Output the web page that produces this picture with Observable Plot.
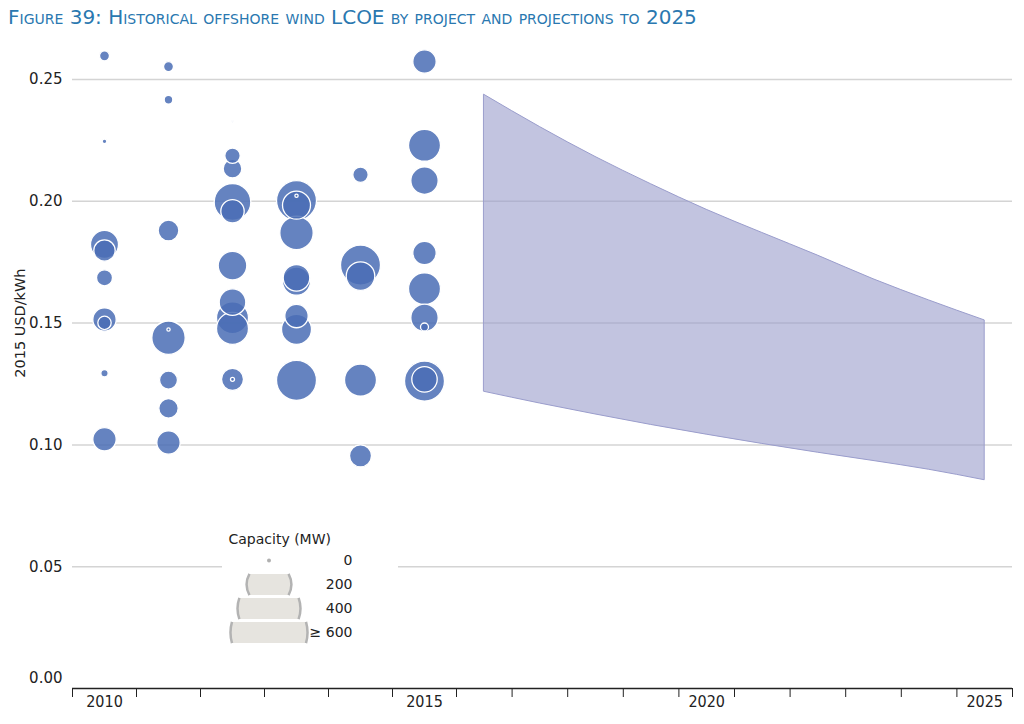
<!DOCTYPE html>
<html>
<head>
<meta charset="utf-8">
<script src="https://cdn.jsdelivr.net/npm/d3@7"></script>
<script src="https://cdn.jsdelivr.net/npm/@observablehq/plot@0.6"></script>
<style>
  body { margin: 0; background: #fff; }
  #wrap { position: relative; width: 1024px; height: 724px; overflow: hidden; }
  #title { position: absolute; left: 8px; top: 5px; font-family: "DejaVu Sans", sans-serif; font-variant: small-caps; font-size: 20px; color: #2a78b0; white-space: nowrap; letter-spacing: 0px; }
  #chart { position: absolute; left: 0; top: 40px; }
  #legend { position: absolute; left: 222px; top: 522px; background: #fff; }
</style>
</head>
<body>
<div id="wrap">
  <div id="title">Figure 39: Historical offshore wind LCOE by project and projections to 2025</div>
  <div id="chart"></div>
  <div id="legend"></div>
</div>
<script>
// ---- Data ----
const histYears = [
  2010, 2010, 2010, 2010, 2010, 2010, 2010, 2010, 2010,
  2011, 2011, 2011, 2011, 2011, 2011, 2011, 2011,
  2012, 2012, 2012, 2012, 2012, 2012, 2012, 2012, 2012, 2012, 2012,
  2013, 2013, 2013, 2013, 2013, 2013, 2013, 2013, 2013,
  2014, 2014, 2014, 2014, 2014,
  2015, 2015, 2015, 2015, 2015, 2015, 2015, 2015, 2015
];
const histLcoe = [
  0.2597, 0.2246, 0.1823, 0.1798, 0.1686, 0.1515, 0.1501, 0.1294, 0.1023,
  0.2553, 0.2417, 0.1880, 0.1440, 0.1474, 0.1266, 0.1150, 0.1010,
  0.2328, 0.2187, 0.2134, 0.1997, 0.1959, 0.1736, 0.1586, 0.1522, 0.1478, 0.1269, 0.1269,
  0.2003, 0.1984, 0.2023, 0.1870, 0.1686, 0.1672, 0.1529, 0.1474, 0.1265,
  0.2109, 0.1738, 0.1693, 0.1266, 0.0955,
  0.2574, 0.2230, 0.2085, 0.1788, 0.1641, 0.1522, 0.1484, 0.1262, 0.1269
];
const histCapacity = [
  37, 8, 294, 172, 96, 205, 67, 20, 205,
  37, 28, 160, 418, 4, 121, 141, 205,
  1, 89, 130, 504, 205, 307, 265, 384, 384, 181, 6,
  600, 294, 4, 418, 265, 294, 205, 337, 600,
  89, 600, 307, 384, 181,
  205, 384, 281, 205, 384, 281, 24, 600, 242
];
const projYears = [2016, 2017, 2018, 2019, 2020, 2021, 2022, 2023, 2024, 2025];
const projLow  = [0.1218, 0.1170, 0.1125, 0.1082, 0.1042, 0.1004, 0.0968, 0.0934, 0.0898, 0.0855];
const projHigh = [0.2437, 0.2305, 0.2182, 0.2070, 0.1965, 0.1870, 0.1777, 0.1680, 0.1593, 0.1511];
const yTicks = [0.05, 0.10, 0.15, 0.20, 0.25];
const xLabelYears = [2010, 2015, 2020, 2025];
const xBoundaries = [2009.5, 2010.5, 2011.5, 2012.5, 2013.5, 2014.5, 2015.5, 2016.5, 2017.5,
  2018.5, 2019.5, 2020.5, 2021.5, 2022.5, 2023.5, 2024.5, 2025.5];
const legendCaps = [0, 200, 400, 600];
const legendLabels = ["0", "200", "400", "\u2265 600"];
const yLabel = "2015 USD/kWh";
const legendTitle = "Capacity (MW)";

// ---- Tables ----
const projects = histYears.map((year, i) => ({year, lcoe: histLcoe[i], cap: histCapacity[i]}));
const band = projYears.map((year, i) => ({year, low: projLow[i], high: projHigh[i]}));

const chart = Plot.plot({
  width: 1024,
  height: 684,
  marginLeft: 72,
  marginRight: 12,
  marginTop: 39,
  marginBottom: 36,
  style: {fontFamily: "DejaVu Sans, sans-serif", fontSize: "15px", color: "#333", background: "transparent", overflow: "visible"},
  x: {type: "linear", domain: [2009.5, 2015.5, 2025.5], range: [72, 456, 1012]},
  y: {domain: [0, 0.25]},
  r: {type: "sqrt", domain: [0, 600], range: [0, 20], clamp: true},
  marks: [
    Plot.gridY(yTicks, {stroke: "#d4d4d4", strokeOpacity: 1, strokeWidth: 1.5}),
    Plot.areaY(band, {x: "year", y1: "low", y2: "high", curve: "monotone-x", fill: "#9a9dcc", fillOpacity: 0.6, stroke: "#9a9dcc", strokeWidth: 1}),
    Plot.dot(projects, {x: "year", y: "lcoe", r: "cap", fill: "#4a6db5", fillOpacity: 0.85, stroke: "#fff", strokeWidth: 1.3}),
    Plot.ruleY([0], {stroke: "#222", strokeWidth: 1.5}),
    Plot.axisX({ticks: xBoundaries, tickSize: 9, tickFormat: () => "", stroke: "#222", label: null}),
    Plot.axisX({ticks: xLabelYears, tickSize: 0, tickPadding: 7, tickFormat: d => String(d), fontFamily: "DejaVu Sans Condensed, sans-serif", fontSize: 16, fill: "#222", label: null}),
    Plot.axisY({ticks: yTicks, tickSize: 0, tickPadding: 10, tickFormat: d3.format(".2f"), fill: "#222", label: null}),
    Plot.axisY({ticks: [0], tickSize: 0, tickPadding: 10, tickFormat: d3.format(".2f"), dy: -10, fill: "#222", label: null}),
    Plot.text([yLabel], {x: 2009.5, y: 0.15, text: d => d, rotate: -90, dx: -52, fontSize: 14.5, fill: "#222"})
  ]
});
document.getElementById("chart").appendChild(chart);

// ---- Legend ----
const H = 10.6;
function strip(outline) {
  return {
    draw(ctx, size) {
      const R = Math.sqrt(size / Math.PI);
      const a = Math.asin(Math.min(1, H / R));
      if (outline) {
        ctx.moveTo(R * Math.cos(-a), R * Math.sin(-a));
        ctx.arc(0, 0, R, -a, a);
        ctx.moveTo(R * Math.cos(Math.PI - a), R * Math.sin(Math.PI - a));
        ctx.arc(0, 0, R, Math.PI - a, Math.PI + a);
      } else {
        ctx.moveTo(R * Math.cos(-a), R * Math.sin(-a));
        ctx.arc(0, 0, R, -a, a);
        ctx.arc(0, 0, R, Math.PI - a, Math.PI + a);
        ctx.closePath();
      }
    }
  };
}
const lab = (d, i) => legendLabels[i];
const legend = Plot.plot({
  width: 176,
  height: 125,
  margin: 0,
  style: {fontFamily: "DejaVu Sans, sans-serif", fontSize: "14px", color: "#333", background: "#fff"},
  y: {type: "point", domain: legendLabels, range: [37, 110], padding: 0, axis: null},
  r: {type: "sqrt", domain: [0, 600], range: [0, 38.5]},
  marks: [
    Plot.text([legendTitle], {frameAnchor: "top-left", text: d => d, dx: 6, dy: 17, lineAnchor: "middle", textAnchor: "start", fill: "#222", fontSize: 14}),
    Plot.dot(legendCaps, {filter: d => d === 0, y: lab, frameAnchor: "left", dx: 46.5, r: 2, fill: "#b0b0b0"}),
    Plot.dot(legendCaps, {filter: d => d > 0, y: lab, r: d => d, frameAnchor: "left", dx: 46.5, symbol: strip(false), fill: "#e6e4df", stroke: "none"}),
    Plot.dot(legendCaps, {filter: d => d > 0, y: lab, r: d => d, frameAnchor: "left", dx: 46.5, symbol: strip(true), fill: "none", stroke: "#b3b3b3", strokeWidth: 2.5}),
    Plot.text(legendCaps, {y: lab, text: lab, frameAnchor: "left", dx: 130, textAnchor: "end", fill: "#222", fontSize: 14})
  ]
});
document.getElementById("legend").appendChild(legend);
</script>
</body>
</html>
